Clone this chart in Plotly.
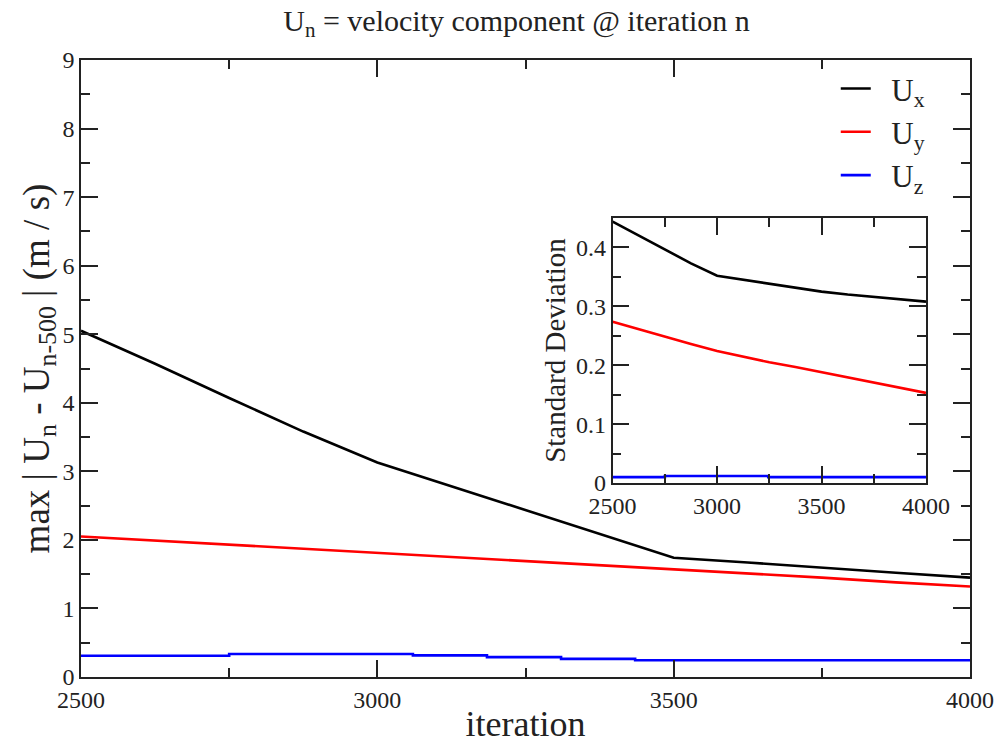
import plotly.graph_objects as go

# iteration grid (every 125 iterations)
iterations = [2500, 2625, 2750, 2875, 3000, 3125, 3250, 3375, 3500, 3625, 3750, 3875, 4000]

# max |U_n - U_(n-500)| per component (m/s)
max_diff_ux = [5.05, 4.57, 4.07, 3.58, 3.13, 2.78, 2.43, 2.08, 1.74, 1.67, 1.59, 1.52, 1.45]
max_diff_uy = [2.05, 1.99, 1.94, 1.88, 1.82, 1.76, 1.70, 1.64, 1.57, 1.51, 1.45, 1.38, 1.32]

# Uz changes in small steps
uz_iterations = [2500, 2750, 2750, 3060, 3060, 3185, 3185, 3310, 3310, 3435, 3435, 4000]
max_diff_uz = [0.31, 0.31, 0.335, 0.335, 0.315, 0.315, 0.29, 0.29, 0.265, 0.265, 0.245, 0.245]

# standard deviation per component
std_ux = [0.444, 0.420, 0.397, 0.373, 0.352, 0.345, 0.338, 0.331, 0.325, 0.320, 0.316, 0.312, 0.308]
std_uy = [0.274, 0.261, 0.249, 0.236, 0.224, 0.214, 0.205, 0.197, 0.188, 0.179, 0.170, 0.162, 0.153]
std_uz_iterations = [2500, 2750, 2750, 3245, 3245, 4000]
std_uz = [0.010, 0.010, 0.012, 0.012, 0.010, 0.010]

names = ["U<sub>x</sub>", "U<sub>y</sub>", "U<sub>z</sub>"]
colors = ["#000000", "#ff0000", "#0000ff"]

FONT = "Liberation Serif"
INK = "#222222"
fig = go.Figure()

main_series = [(iterations, max_diff_ux), (iterations, max_diff_uy), (uz_iterations, max_diff_uz)]
for i, (xs, ys) in enumerate(main_series):
    fig.add_trace(go.Scatter(x=xs, y=ys, mode="lines", name="&nbsp;&nbsp;" + names[i],
                             line=dict(color=colors[i], width=2.6),
                             legendgroup=f"g{i}", xaxis="x", yaxis="y"))

inset_series = [(iterations, std_ux), (iterations, std_uy), (std_uz_iterations, std_uz)]
for i, (xs, ys) in enumerate(inset_series):
    fig.add_trace(go.Scatter(x=xs, y=ys, mode="lines", showlegend=False,
                             line=dict(color=colors[i], width=2.6),
                             xaxis="x2", yaxis="y2"))

minor_x = dict(dtick=250, ticklen=9, ticks="inside", tickcolor=INK, tickwidth=1.5)
axis_common = dict(showgrid=False, zeroline=False, showline=True, linecolor=INK,
                   linewidth=1.5, mirror="ticks", ticks="inside", tickcolor=INK,
                   tickwidth=1.5, ticklen=17, automargin=False,
                   tickfont=dict(family=FONT, size=24, color=INK))

fig.update_layout(
    width=1003, height=744,
    margin=dict(l=81, r=33, t=60, b=67),
    paper_bgcolor="white", plot_bgcolor="white",
    font=dict(family=FONT, color=INK),
    title=dict(text="U<sub>n</sub> = velocity component @ iteration n",
               x=0.515, xanchor="center", y=0.973, yanchor="middle",
               font=dict(family=FONT, size=30, color=INK)),
    xaxis=dict(axis_common, range=[2500, 4000], dtick=500, minor=minor_x,
               title=dict(text="iteration", font=dict(family=FONT, size=36), standoff=0)),
    yaxis=dict(axis_common, range=[0, 9], dtick=1,
               minor=dict(minor_x, dtick=0.5),
               title=dict(text="max | U<sub>n</sub> - U<sub>n-500</sub> | (m / s)",
                          font=dict(family=FONT, size=37), standoff=2)),
    xaxis2=dict(axis_common, domain=[0.598, 0.9505], anchor="y2", range=[2500, 4000],
                dtick=500, minor=minor_x),
    yaxis2=dict(axis_common, domain=[0.3144, 0.7439], anchor="x2", range=[0, 0.45],
                dtick=0.1, minor=dict(minor_x, dtick=0.05),
                title=dict(text="Standard Deviation", font=dict(family=FONT, size=29), standoff=2)),
    legend=dict(x=0.849, y=0.997, xanchor="left", yanchor="top",
                bgcolor="rgba(0,0,0,0)", borderwidth=0, tracegroupgap=0,
                font=dict(family=FONT, size=31, color=INK)),
)

fig.write_html("out.html")
